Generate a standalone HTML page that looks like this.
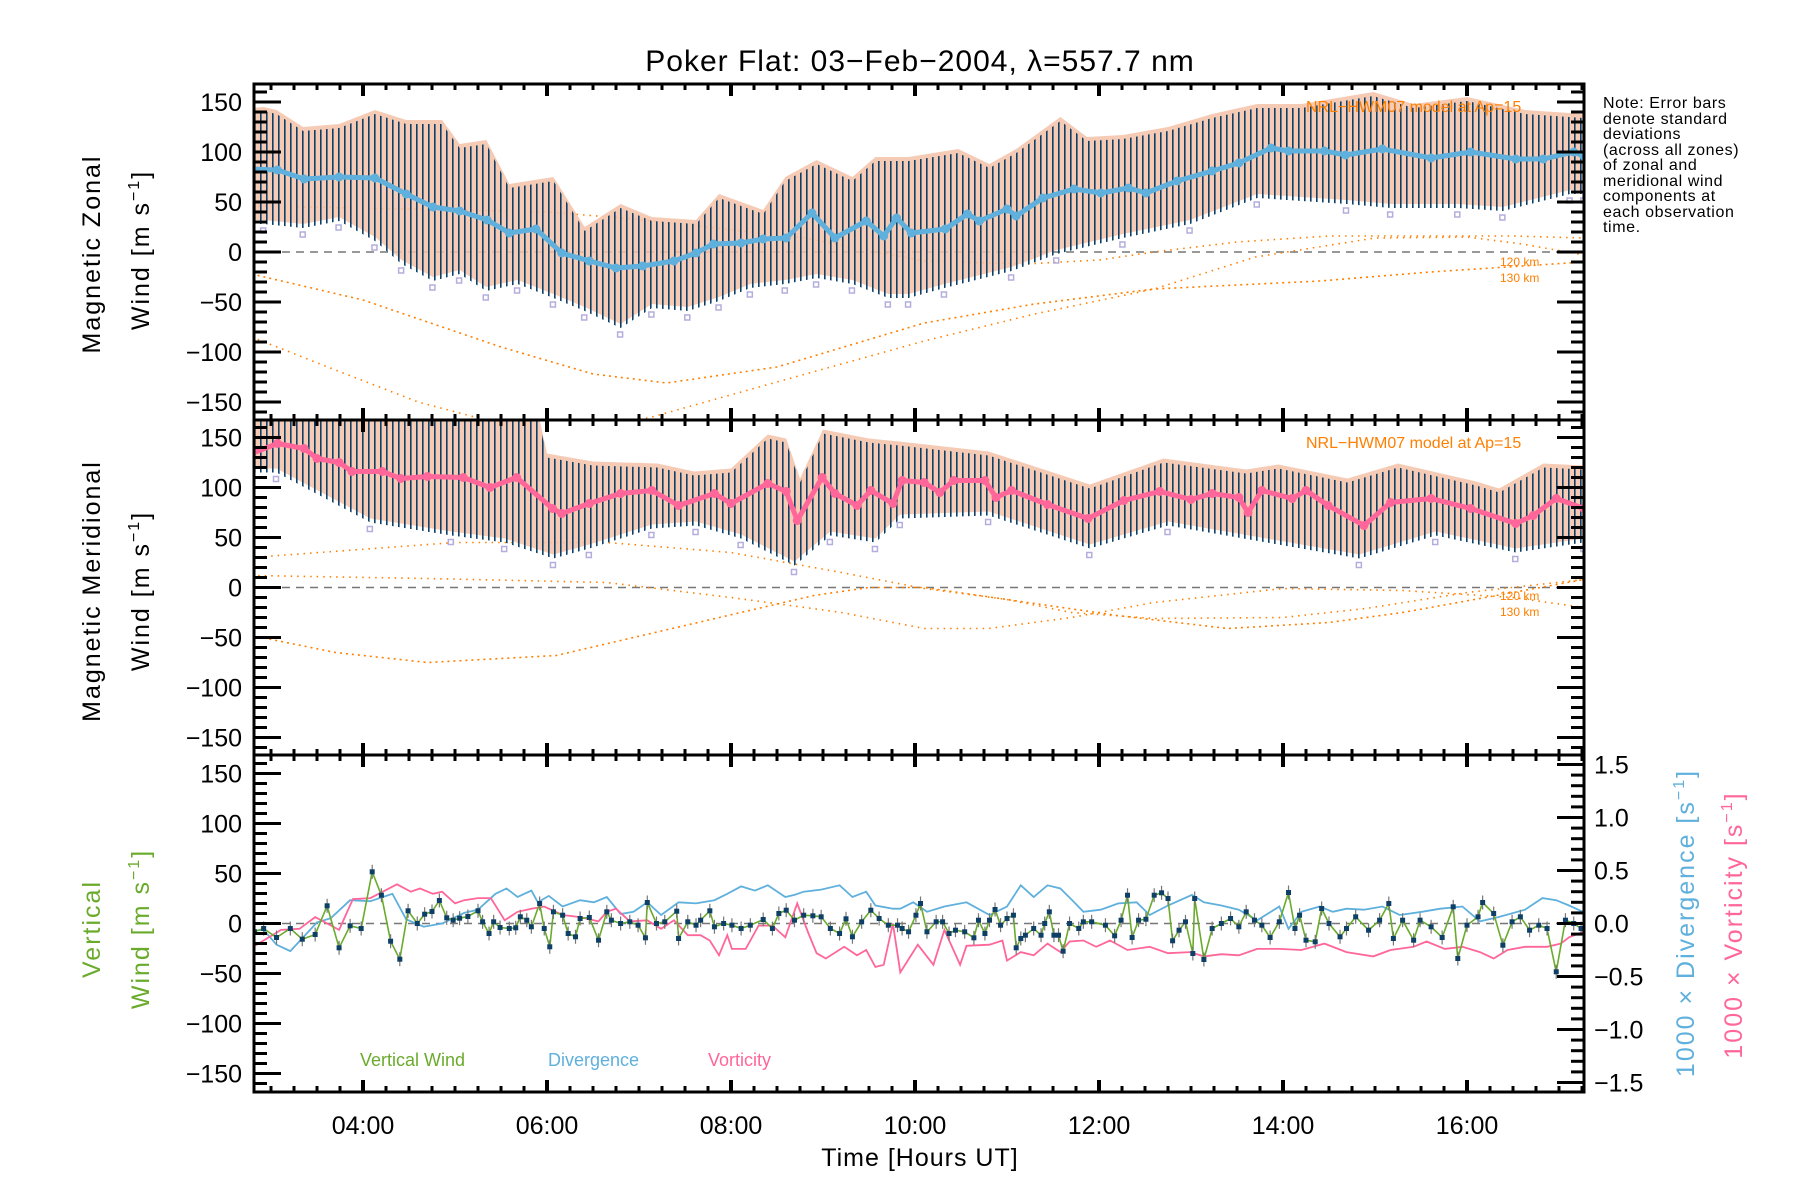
<!DOCTYPE html>
<html><head><meta charset="utf-8"><title>Poker Flat winds</title>
<style>
html,body{margin:0;padding:0;background:#fff;}
svg{display:block;font-family:"Liberation Sans",sans-serif;}
</style></head>
<body>
<svg id="chart" width="1800" height="1200" viewBox="0 0 1800 1200" xmlns="http://www.w3.org/2000/svg">
<defs>
<pattern id="hatch" width="6" height="10" patternUnits="userSpaceOnUse"><rect x="2" y="0" width="1.6" height="10" fill="#0e3f66"/></pattern>
<clipPath id="c1"><rect x="254" y="84" width="1330" height="336"/></clipPath>
<clipPath id="c2"><rect x="254" y="420" width="1330" height="335"/></clipPath>
<clipPath id="c3"><rect x="254" y="755" width="1330" height="337"/></clipPath>
</defs>
<text x="920" y="71" font-size="30" text-anchor="middle" letter-spacing="1">Poker Flat: 03−Feb−2004, λ=557.7 nm</text>
<g id="layer"></g>
<g font-size="16" letter-spacing="0.6" fill="#000">
<text x="1603" y="108">Note: Error bars</text>
<text x="1603" y="124">denote standard</text>
<text x="1603" y="139">deviations</text>
<text x="1603" y="155">(across all zones)</text>
<text x="1603" y="170">of zonal and</text>
<text x="1603" y="186">meridional wind</text>
<text x="1603" y="201">components at</text>
<text x="1603" y="217">each observation</text>
<text x="1603" y="232">time.</text>
</g>
<text x="920" y="1166" font-size="25" text-anchor="middle" letter-spacing="1">Time [Hours UT]</text>
<g font-size="25" letter-spacing="2" text-anchor="middle">
<text transform="translate(100,254) rotate(-90)">Magnetic Zonal</text>
<text transform="translate(149,250) rotate(-90)">Wind [m s<tspan font-size="16" dy="-10">−1</tspan><tspan dy="10">]</tspan></text>
<text transform="translate(100,591) rotate(-90)">Magnetic Meridional</text>
<text transform="translate(149,591) rotate(-90)">Wind [m s<tspan font-size="16" dy="-10">−1</tspan><tspan dy="10">]</tspan></text>
<text transform="translate(100,929) rotate(-90)" fill="#6aab2c">Vertical</text>
<text transform="translate(149,929) rotate(-90)" fill="#6aab2c">Wind [m s<tspan font-size="16" dy="-10">−1</tspan><tspan dy="10">]</tspan></text>
<text transform="translate(1694,923) rotate(-90)" fill="#5fb0dc">1000 × Divergence [s<tspan font-size="16" dy="-10">−1</tspan><tspan dy="10">]</tspan></text>
<text transform="translate(1742,925) rotate(-90)" fill="#ff6699">1000 × Vorticity [s<tspan font-size="16" dy="-10">−1</tspan><tspan dy="10">]</tspan></text>
</g>
<g font-size="18">
<text x="360" y="1066" fill="#6aab2c">Vertical Wind</text>
<text x="548" y="1066" fill="#5fb0dc">Divergence</text>
<text x="708" y="1066" fill="#ff6699">Vorticity</text>
</g>
</svg>
<script>
// ---------- data ----------
const xTickLabels = ["04:00","06:00","08:00","10:00","12:00","14:00","16:00"];
const xTickHours = [4,6,8,10,12,14,16];
const yTickValues = [150,100,50,0,-50,-100,-150];
const rTickValues = [1.5,1.0,0.5,0.0,-0.5,-1.0,-1.5];

// Zonal (panel 1)
const zonalMeanT = [2.79,3.07,3.36,3.74,4.13,4.47,4.76,5.05,5.35,5.59,5.88,6.16,6.46,6.75,7.04,7.38,7.62,7.81,8.11,8.35,8.6,8.88,9.13,9.47,9.66,9.8,9.96,10.33,10.57,10.7,11.0,11.1,11.39,11.73,12.02,12.32,12.51,12.85,13.23,13.52,13.87,14.06,14.45,14.68,15.08,15.61,16.04,16.53,16.83,17.16,17.27];
const zonalMean = [83,82,73,75,74,58,45,41,32,19,23,-1,-9,-16,-14,-9,-1,8,9,13,14,39,14,31,16,34,19,23,38,31,43,36,54,63,59,64,59,71,81,89,104,101,101,97,103,94,100,93,93,100,96];
const zonalUpT = [2.79,2.92,3.06,3.35,3.74,4.13,4.47,4.86,5.05,5.34,5.59,6.07,6.41,6.80,7.14,7.62,7.87,8.35,8.59,8.93,9.32,9.57,9.93,10.47,10.81,11.1,11.58,11.87,12.26,12.75,13.23,13.72,14.2,14.98,15.42,16.0,16.63,17.27];
const zonalUp = [140,141,138,121,124,138,128,128,104,108,64,71,21,44,31,28,54,38,71,88,71,91,91,99,84,99,131,111,113,121,134,144,144,156,144,151,138,134];
const zonalLoT = [2.79,2.92,3.35,3.74,4.13,4.42,4.76,5.05,5.34,5.68,6.07,6.41,6.80,7.14,7.53,7.87,8.21,8.59,8.93,9.32,9.71,9.93,10.32,11.05,11.54,12.26,12.99,13.72,14.69,15.17,15.9,16.39,17.12,17.27];
const zonalLo = [28,28,24,31,11,-12,-29,-22,-39,-32,-46,-59,-76,-56,-59,-49,-36,-32,-26,-32,-46,-46,-36,-19,-2,14,28,54,48,44,44,41,58,58];
const zModelAT = [2.79,4.0,5.5,6.5,7.3,8.5,10.1,11.3,12.6,14.4,15.6,17.27];
const zModelA = [-22,-48,-95,-122,-131,-115,-71,-52,-37,-29,-20,-10];
const zModelBT = [2.79,3.7,4.6,5.5,6.3,7.1,8.5,10.1,11.3,12.6,13.7,15.0,16.0,16.6,17.27];
const zModelB = [-85,-118,-150,-172,-172,-166,-130,-89,-62,-37,-5,14,15,8,-3];
const zModelCT = [2.79,4.5,6.0,6.95,8.8,10.1,11.2,12.0,12.6,13.5,14.5,15.5,16.5,17.27];
const zModelC = [46,43,40,33,14,-9,-12,-8,0,10,16,16,16,14];

// Meridional (panel 2)
const merMeanT = [2.79,3.07,3.36,3.5,3.74,3.88,4.21,4.41,4.7,5.09,5.38,5.67,6.06,6.16,6.46,6.8,7.14,7.43,7.82,8.0,8.4,8.6,8.72,8.99,9.13,9.37,9.52,9.76,9.86,10.1,10.27,10.42,10.76,10.88,11.05,11.44,11.88,12.27,12.66,13.0,13.23,13.52,13.62,13.77,14.1,14.25,14.49,14.88,15.17,15.61,16.04,16.53,16.72,16.97,17.27];
const merMean = [134,144,139,129,125,116,116,109,111,110,100,110,79,74,84,94,97,82,94,84,104,96,67,110,94,82,97,84,107,105,95,107,107,90,97,83,69,87,96,88,94,90,75,97,89,97,82,62,85,89,79,64,72,89,79];
const merUpT = [2.79,3.5,5.9,6.0,6.5,7.2,7.6,8.0,8.4,8.6,8.75,9.0,9.5,9.83,10.8,11.9,12.7,13.6,13.95,14.7,15.25,16.1,16.35,16.83,17.27];
const merUp = [172,172,172,130,122,120,112,115,149,145,105,154,145,142,132,99,125,114,119,105,120,102,95,120,118];
const merLoT = [2.79,3.06,4.08,4.96,5.54,6.07,6.46,7.14,7.62,8.11,8.69,9.08,9.57,9.84,10.8,11.9,12.75,14.83,15.66,16.53,17.27];
const merLo = [115,115,65,52,45,29,39,59,62,49,22,52,45,69,72,39,62,29,52,35,45];
const mModelAT = [2.79,5.0,6.65,8.0,9.2,10.1,11.0,11.7,12.6,14.0,14.9,16.0,17.27];
const mModelA = [30,45,45,35,15,-1,-12,-25,-31,-30,-21,-5,8];
const mModelBT = [2.79,4.7,6.65,8.0,9.2,10.1,10.8,11.7,12.6,14.0,15.3,16.5,17.27];
const mModelB = [12,9,5,-10,-25,-41,-41,-30,-15,-1,-3,-10,-20];
const mModelCT = [2.79,3.7,4.7,6.1,7.5,8.9,9.5,10.1,11.0,12.2,13.4,14.5,15.3,16.5,17.27];
const mModelC = [-48,-65,-75,-68,-38,-8,0,0,-12,-28,-41,-35,-25,-5,8];

// Vertical wind (panel 3)
const vwT = [2.82,2.92,3.06,3.21,3.34,3.48,3.61,3.74,3.86,3.98,4.10,4.20,4.30,4.40,4.49,4.59,4.67,4.75,4.83,4.91,4.98,5.05,5.14,5.25,5.30,5.37,5.42,5.49,5.59,5.66,5.71,5.78,5.83,5.92,5.97,6.03,6.07,6.17,6.23,6.31,6.36,6.46,6.56,6.65,6.70,6.80,6.90,6.99,7.07,7.09,7.19,7.28,7.41,7.43,7.53,7.62,7.67,7.77,7.82,7.92,8.01,8.11,8.21,8.35,8.45,8.52,8.60,8.69,8.79,8.89,8.98,9.08,9.18,9.25,9.32,9.42,9.52,9.61,9.71,9.81,
9.86,9.93,10.01,10.06,10.13,10.23,10.30,10.37,10.44,10.54,10.64,10.69,10.76,10.81,10.87,10.93,11.00,11.07,11.10,11.15,11.20,11.29,11.37,11.41,11.46,11.51,11.56,11.61,11.68,11.78,11.83,11.92,12.07,12.17,12.24,12.31,12.36,12.43,12.51,12.60,12.68,12.75,12.80,12.87,12.94,13.02,13.04,13.14,13.23,13.33,13.43,13.52,13.60,13.69,13.77,13.86,13.96,14.06,14.13,14.18,14.25,14.35,14.42,14.50,14.62,14.69,14.79,14.93,15.05,15.15,15.20,15.30,15.42,15.49,15.61,15.73,15.85,15.90,16.00,16.12,16.17,16.29,16.39,16.49,16.58,16.68,16.78,16.87,16.97,17.07,17.16,17.24];
const vwV = [-8.3,-5,-14,-5,-15.7,-11,17.7,-24.3,-2.3,-5,51.7,28.3,-17.7,-35.7,12.7,0,9.3,12,23,5.7,3.3,5.3,7,12.7,1.7,-10,1.7,-4,-5,-4.3,6.7,3.3,-3.3,20,-5,-23.3,11.7,8.3,-10,-13.3,5,6,-16.7,11.7,3.3,0,1.7,-1.7,-14.3,21,0,1.7,12.3,-15,1.7,-1.7,3.3,12.7,-3.3,0,-1.7,-5,-1.7,4,-5,10,13.3,3.3,8.3,7.7,6.7,-5,-10,4.7,-13.3,1.7,13.3,5,-1.7,-1.7,
-5,-8.3,8.3,20,-8.3,1.7,1.7,-10,-6.7,-8.3,-14.3,3.3,-10,3.3,14,-1.7,5,8.3,-24.3,-15,-11.7,-5,-11.7,0,11.7,-11.7,-11.7,-27.7,0,-5,1.7,1.7,-1.7,-12.3,3.3,28.3,-14,3.3,4.3,28.3,30.7,25,-17.3,-6.7,1.7,-30,25,-36,-5,0,5,-3.3,11.7,3.3,-1.7,-14,1.7,31,-5,8.3,-16.7,-18.3,15,0,-13.3,-5,6.7,-6.7,3.3,20,-15,3.3,-16.7,3.3,-3.3,-14,16.7,-35,-1.7,6.7,21,10,-21.7,1.7,6.7,-6.7,-1.7,-5,-48.3,3.3,0,-5];

const divT = [2.77,2.92,3.06,3.21,3.35,3.50,3.65,3.86,4.08,4.32,4.47,4.66,4.86,5.10,5.25,5.44,5.56,5.68,5.83,5.90,6.02,6.17,6.36,6.51,6.65,6.80,6.94,7.09,7.24,7.43,7.62,7.82,7.96,8.11,8.26,8.40,8.59,8.69,8.79,8.98,9.18,9.32,9.47,9.57,9.76,9.84,9.98,10.13,10.32,10.56,10.81,11.00,11.15,11.29,11.44,11.58,11.73,11.83,12.02,12.21,12.41,12.55,12.75,13.01,13.14,13.33,13.52,13.72,13.96,14.06,14.20,14.40,14.54,14.69,14.88,15.08,15.27,15.51,15.71,15.95,16.14,16.34,16.63,16.82,16.97,17.11,17.26];
const divV = [-0.07,-0.06,-0.20,-0.26,-0.13,0.01,0.05,0.22,0.21,0.28,0.04,-0.03,0.00,0.10,0.13,0.28,0.33,0.25,0.31,0.20,0.26,0.16,0.22,0.20,0.25,0.09,0.11,0.20,0.08,0.20,0.19,0.22,0.28,0.35,0.31,0.36,0.25,0.27,0.30,0.32,0.36,0.25,0.30,0.17,0.14,0.14,0.20,0.11,0.16,0.20,0.08,0.16,0.36,0.25,0.36,0.33,0.20,0.11,0.13,0.19,0.20,0.08,0.17,0.27,0.20,0.17,0.13,0.03,0.16,-0.05,0.11,0.16,0.11,0.14,0.13,0.16,0.08,0.11,0.14,0.16,0.02,0.06,0.13,0.24,0.22,0.17,0.11];

const vorT = [2.77,2.92,3.11,3.31,3.48,3.74,3.89,4.08,4.37,4.52,4.62,4.76,4.86,5.00,5.10,5.25,5.39,5.54,5.68,5.83,5.97,6.17,6.36,6.56,6.65,6.75,6.90,7.09,7.24,7.38,7.53,7.67,7.77,7.87,7.96,8.01,8.16,8.30,8.45,8.59,8.72,8.84,8.93,9.03,9.23,9.37,9.47,9.57,9.66,9.76,9.84,10.03,10.20,10.32,10.49,10.56,10.81,10.95,11.00,11.15,11.29,11.44,11.58,11.68,11.83,11.97,12.12,12.31,12.55,12.75,12.99,13.14,13.33,13.52,13.72,13.96,14.20,14.45,14.69,14.98,15.17,15.42,15.56,15.76,15.95,16.14,16.29,16.44,16.63,16.87,17.02,17.11,17.26];
const vorV = [-0.24,-0.16,-0.06,-0.05,0.06,-0.06,0.23,0.24,0.37,0.30,0.33,0.28,0.30,0.19,0.22,0.24,0.24,0.03,0.11,0.14,0.16,0.08,0.06,0.02,0.11,0.14,0.02,0.03,-0.05,0.03,-0.11,-0.11,-0.16,-0.30,-0.11,-0.24,-0.24,-0.02,-0.02,-0.13,0.19,-0.09,-0.28,-0.33,-0.22,-0.30,-0.25,-0.41,-0.39,0.00,-0.46,-0.20,-0.39,-0.06,-0.39,-0.21,-0.20,-0.16,-0.35,-0.27,-0.30,-0.19,-0.27,-0.17,-0.16,-0.22,-0.16,-0.25,-0.22,-0.28,-0.27,-0.31,-0.29,-0.30,-0.24,-0.24,-0.25,-0.19,-0.27,-0.31,-0.25,-0.22,-0.17,-0.24,-0.22,-0.27,-0.33,-0.25,-0.22,-0.22,-0.19,-0.13,-0.08];

// ---------- axes ----------
const NS = "http://www.w3.org/2000/svg";
const X0 = 254, X1 = 1584;
const xs = h => 363 + (h - 4) * 92;
const panels = [{top:84,bot:420,zero:252,clip:"c1"},{top:420,bot:755,zero:587.5,clip:"c2"},{top:755,bot:1092,zero:923.5,clip:"c3"}];
const ys = (p, v) => panels[p].zero - v;
const yr = v => panels[2].zero - v * 106;
const layer = document.getElementById('layer');
function mk(tag, attrs, parent) {
  const e = document.createElementNS(NS, tag);
  for (const k in attrs) e.setAttribute(k, attrs[k]);
  (parent || layer).appendChild(e);
  return e;
}
function pathFrom(T, V, fx, fy) {
  return T.map((t, i) => (i ? 'L' : 'M') + fx(t).toFixed(1) + ',' + fy(V[i]).toFixed(1)).join(' ');
}

function drawEnvelope(p, upT, up, loT, lo, name) {
  const g = mk('g', {'clip-path': 'url(#' + panels[p].clip + ')'});
  
  
  let d = pathFrom(upT, up, xs, v => ys(p, v));
  const rT = loT.slice().reverse(), rV = lo.slice().reverse();
  d += ' ' + pathFrom(rT, rV, xs, v => ys(p, v)).replace(/^M/, 'L') + ' Z';
  const pastel = mk('path', {d: d, fill: '#f4c2a8', opacity: 0.85, transform: 'translate(0,-4)'}, g);
  
  
  const band = mk('path', {d: d, fill: 'url(#hatch)'}, g);
  
  
  loT.forEach((t, i) => {
    const s = mk('rect', {x: xs(t) - 3, y: ys(p, lo[i]) + 4, width: 5, height: 5, fill: 'none', stroke: '#b3aedd', 'stroke-width': 1.5}, g);
    
    
  });
  return g;
}
function drawMean(p, T, V, c1, c2, name) {
  const g = mk('g', {'clip-path': 'url(#' + panels[p].clip + ')'});
  
  
  const l = mk('path', {d: pathFrom(T, V, xs, v => ys(p, v)), fill: 'none', stroke: c1, 'stroke-width': 5, 'stroke-linejoin': 'round'}, g);
  
  
  T.forEach((t, i) => {
    const c = mk('circle', {cx: xs(t), cy: ys(p, V[i]), r: 4.5, fill: c2}, g);
    
    
  });
}
function drawModel(p, T, V, dash, name) {
  const l = mk('path', {d: pathFrom(T, V, xs, v => ys(p, v)), fill: 'none', stroke: '#ff7f00', 'stroke-width': 1.6, 'stroke-dasharray': dash, 'clip-path': 'url(#' + panels[p].clip + ')'});
  
  
}

panels.forEach((P, i) => {
  const z = mk('line', {x1: X0, x2: X1, y1: P.zero, y2: P.zero, stroke: '#777', 'stroke-width': 1.5, 'stroke-dasharray': '8,6'});
  
  
});

drawModel(0, zModelAT, zModelA, '2,4', 'zonal-model-120km');
drawModel(0, zModelBT, zModelB, '1.5,5', 'zonal-model-130km');
drawModel(0, zModelCT, zModelC, '1.5,5', 'zonal-model-extra');
drawEnvelope(0, zonalUpT, zonalUp, zonalLoT, zonalLo, 'zonal');
drawMean(0, zonalMeanT, zonalMean, '#5fb0dc', '#5fb0dc', 'zonal');
drawModel(1, mModelAT, mModelA, '1.5,5', 'meridional-model-a');
drawModel(1, mModelBT, mModelB, '1.5,5', 'meridional-model-b');
drawModel(1, mModelCT, mModelC, '2,4', 'meridional-model-c');
drawEnvelope(1, merUpT, merUp, merLoT, merLo, 'meridional');
drawMean(1, merMeanT, merMean, '#ff6699', '#ff6699', 'meridional');
(function () {
  const g = mk('g', {'clip-path': 'url(#c3)'});
  
  
  const dv = mk('path', {d: pathFrom(divT, divV, xs, yr), fill: 'none', stroke: '#5fb0dc', 'stroke-width': 1.8}, g);
  
  
  const vo = mk('path', {d: pathFrom(vorT, vorV, xs, yr), fill: 'none', stroke: '#ff6699', 'stroke-width': 1.8}, g);
  
  
  const vl = mk('path', {d: pathFrom(vwT, vwV, xs, v => ys(2, v)), fill: 'none', stroke: '#6aab2c', 'stroke-width': 1.6}, g);
  
  
  vwT.forEach((t, i) => {
    const e = mk('line', {x1: xs(t), x2: xs(t), y1: ys(2, vwV[i]) - 7, y2: ys(2, vwV[i]) + 7, stroke: '#777', 'stroke-width': 1.2}, g);
    
    
    const r = mk('rect', {x: xs(t) - 2.5, y: ys(2, vwV[i]) - 2.5, width: 5, height: 5, fill: '#0e3f66'}, g);
    
    
  });
})();

[[0,112,258,274],[1,448,592,608]].forEach(([p, ty, a, b]) => {
  const t = mk('text', {x: 1306, y: ty, 'font-size': 16, fill: '#ff7f00'});
  t.textContent = 'NRL−HWM07 model at Ap=15';
  
  
  const t1 = mk('text', {x: 1500, y: a + 8, 'font-size': 12, fill: '#ff7f00'});
  t1.textContent = '120 km';
  
  
  const t2 = mk('text', {x: 1500, y: b + 8, 'font-size': 12, fill: '#ff7f00'});
  t2.textContent = '130 km';
  
  
});

panels.forEach((P, i) => {
  const f = mk('rect', {x: X0, y: P.top, width: X1 - X0, height: P.bot - P.top, fill: 'none', stroke: '#000', 'stroke-width': 3});
  
  
  for (let m = 0; ; m++) {
    const h = 2.75 + m * 0.25;
    if (h > 17.3) break;
    const x = xs(h);
    if (x < X0 || x > X1) continue;
    const major = Math.abs(h / 2 - Math.round(h / 2)) < 1e-6;
    const len = major ? 12 : 6;
    mk('line', {x1: x, x2: x, y1: P.top, y2: P.top + len, stroke: '#000', 'stroke-width': major ? 4 : 3});
    mk('line', {x1: x, x2: x, y1: P.bot, y2: P.bot - len, stroke: '#000', 'stroke-width': major ? 4 : 3});
  }
  for (let v = -160; v <= 160; v += 10) {
    const y = ys(i, v);
    const major = v % 50 === 0;
    const len = major ? 27 : 13;
    mk('line', {x1: X0, x2: X0 + len, y1: y, y2: y, stroke: '#000', 'stroke-width': 3});
    if (i < 2) mk('line', {x1: X1, x2: X1 - len, y1: y, y2: y, stroke: '#000', 'stroke-width': 3});
  }
  yTickValues.forEach(v => {
    const t = mk('text', {x: 242, y: ys(i, v) + 9, 'font-size': 25, 'text-anchor': 'end'});
    t.textContent = String(v).replace('-', '−');
    
    
  });
});
for (let k = -15; k <= 15; k++) {
  const y = yr(k / 10);
  const major = k % 5 === 0;
  mk('line', {x1: X1, x2: X1 - (major ? 27 : 13), y1: y, y2: y, stroke: '#000', 'stroke-width': 3});
}
rTickValues.forEach(v => {
  const t = mk('text', {x: 1594, y: yr(v) + 9, 'font-size': 25});
  t.textContent = (v < 0 ? '−' : '') + Math.abs(v).toFixed(1);
  
  
});
xTickLabels.forEach((lab, i) => {
  const t = mk('text', {x: xs(xTickHours[i]), y: 1134, 'font-size': 25, 'text-anchor': 'middle'});
  t.textContent = lab;
  
  
});
</script>
</body></html>
